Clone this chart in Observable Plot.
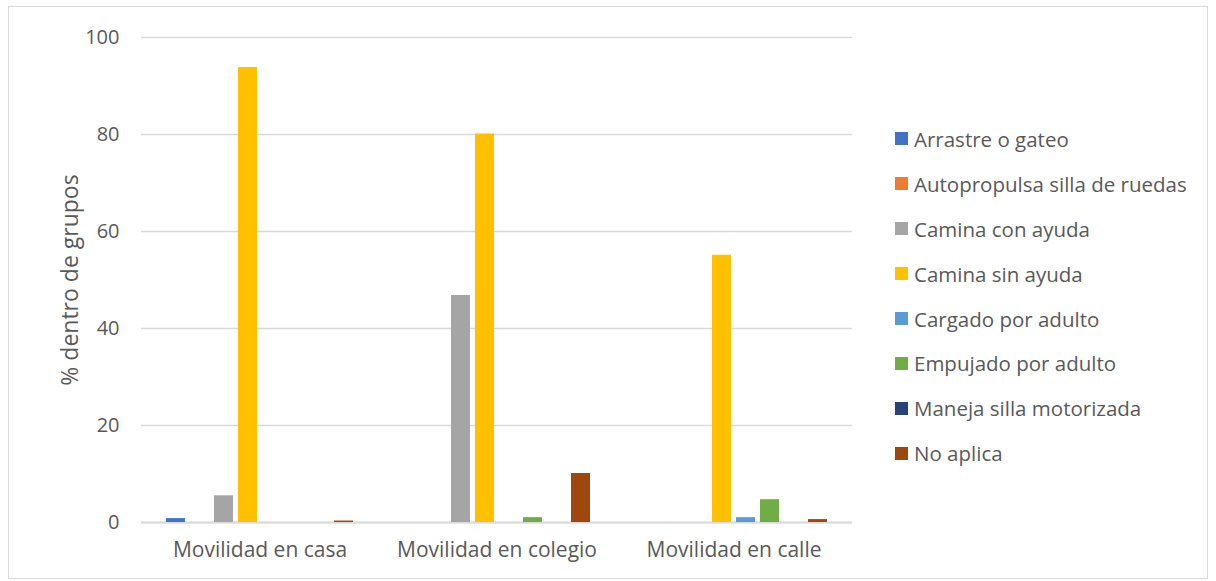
<!DOCTYPE html>
<html>
<head>
<meta charset="utf-8">
<script src="https://cdn.jsdelivr.net/npm/d3@7"></script>
<script src="https://cdn.jsdelivr.net/npm/@observablehq/plot@0.6"></script>
<style>
  html, body { margin: 0; padding: 0; background: #fff; }
  body { position: relative; width: 1216px; height: 581px; overflow: hidden; font-family: "Open Sans", sans-serif; }
  #frame { position: absolute; left: 8px; top: 6px; width: 1198px; height: 571px; border: 1.5px solid #d9d9d9; pointer-events: none; }
  #chart { position: absolute; left: 0; top: 0; }
  #legend { position: absolute; left: 895px; top: 116.5px; font-size: 20.5px; color: #595959; }
  #legend .item { display: flex; align-items: center; height: 44.9px; white-space: nowrap; }
  #legend .sw { width: 13px; height: 13px; margin-right: 6px; }
</style>
</head>
<body>
<div id="chart"></div>
<div id="legend"></div>
<div id="frame"></div>
<script>
const groups = ["Movilidad en casa", "Movilidad en colegio", "Movilidad en calle"];
const series = ["Arrastre o gateo", "Autopropulsa silla de ruedas", "Camina con ayuda", "Camina sin ayuda", "Cargado por adulto", "Empujado por adulto", "Maneja silla motorizada", "No aplica"];
const casa    = [0.8, 0, 5.5, 93.8, 0, 0, 0, 0.3];
const colegio = [0, 0, 46.8, 80.1, 0, 1.0, 0, 10.1];
const calle   = [0, 0, 0, 55.1, 1.0, 4.7, 0, 0.6];
const colors  = ["#4472C4", "#ED7D31", "#A5A5A5", "#FFC000", "#5B9BD5", "#70AD47", "#264478", "#9E480E"];
const yTicks  = [0, 20, 40, 60, 80, 100];

const valuesByGroup = [casa, colegio, calle];
const rows = [];
groups.forEach((g, gi) => series.forEach((s, si) => {
  const v = valuesByGroup[gi][si];
  if (v > 0) rows.push({group: g, serie: s, value: v});
}));

const chart = Plot.plot({
  width: 1216,
  height: 581,
  marginTop: 37,
  marginBottom: 59,
  marginLeft: 140,
  marginRight: 363,
  style: {fontFamily: "'Open Sans', sans-serif", fontSize: "20px", color: "#595959", background: "transparent"},
  fx: {domain: groups, padding: 0, label: null},
  x: {domain: series, paddingInner: 0.2, paddingOuter: 0.855, axis: null},
  y: {domain: [0, 100]},
  color: {domain: series, range: colors},
  marks: [
    Plot.gridY(yTicks, {stroke: "#d9d9d9", strokeOpacity: 1, strokeWidth: 1.3}),
    Plot.ruleY([0], {stroke: "#d9d9d9", strokeWidth: 1.8}),
    Plot.barY(rows, {fx: "group", x: "serie", y: "value", fill: "serie"}),
    Plot.axisY(yTicks, {tickSize: 0, tickPadding: 22, label: null}),
    Plot.axisY({ticks: [], tickSize: 0, label: "% dentro de grupos", labelAnchor: "center", labelOffset: 80, labelArrow: "none", fontSize: 23}),
    Plot.axisFx({anchor: "bottom", tickSize: 0, tickPadding: 20, label: null, fontSize: 21})
  ]
});
document.getElementById("chart").appendChild(chart);

const legend = document.getElementById("legend");
series.forEach((s, i) => {
  const item = document.createElement("div");
  item.className = "item";
  const sw = document.createElement("div");
  sw.className = "sw";
  sw.style.background = colors[i];
  const t = document.createElement("span");
  t.textContent = s;
  item.appendChild(sw);
  item.appendChild(t);
  legend.appendChild(item);
});
</script>
</body>
</html>
